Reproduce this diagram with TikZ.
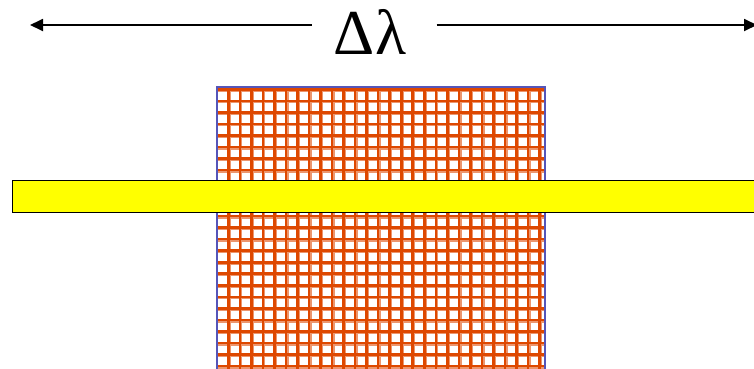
\documentclass[tikz,border=0pt]{standalone}
\usepackage{fontspec}
\setmainfont{Liberation Serif}
\usetikzlibrary{arrows.meta}
\definecolor{gridorange}{RGB}{222,72,0}
\definecolor{gridlight}{RGB}{236,150,110}
\definecolor{gridblue}{RGB}{85,85,185}
\definecolor{baryellow}{RGB}{255,255,0}
\tikzset{
  gridline/.style={draw=gridorange,line width=2.6pt},
  gridshade/.style={draw=gridlight,line width=1.4pt},
  frameline/.style={draw=gridblue,line width=1.6pt},
  barbox/.style={draw=black,fill=baryellow,line width=1.5pt},
  dimarrow/.style={draw=black,line width=1.8pt,-{Triangle[length=13pt,width=12pt]}},
  dimlabel/.style={font=\fontsize{64}{70}\selectfont,inner sep=0pt,anchor=base}
}
\begin{document}
\begin{tikzpicture}[x=1pt,y=-1pt]
\useasboundingbox (0,0) rectangle (754,368);
\clip (0,0) rectangle (754,368);
% grid block
\fill[white] (216.7,87) rectangle (545,372);
\begin{scope}
\clip (216.7,87) rectangle (545,372);
\foreach \k in {0,...,27} {
  \draw[gridshade] ({228.3+11.53*\k+1.9},87) -- ({228.3+11.53*\k+1.9},372);
}
\foreach \k in {0,...,24} {
  \draw[gridshade] (216.7,{89.3+11.53*\k+1.9}) -- (545,{89.3+11.53*\k+1.9});
}
\foreach \k in {0,...,27} {
  \draw[gridline] ({228.3+11.53*\k},87) -- ({228.3+11.53*\k},372);
}
\foreach \k in {0,...,24} {
  \draw[gridline] (216.7,{89.3+11.53*\k}) -- (545,{89.3+11.53*\k});
}
\end{scope}
\draw[frameline] (216.7,372) -- (216.7,87) -- (545,87) -- (545,372);
% yellow bar
\draw[barbox] (12.5,180.5) rectangle (770,212.5);
% delta lambda dimension
\node[dimlabel] (lab) at (370,54) {Δλ};
\coordinate (lend) at (30,25);
\coordinate (rend) at (757,25);
\coordinate (lstart) at (311.7,25);
\coordinate (rstart) at (436.7,25);
\draw[dimarrow] (lstart) -- (lend);
\draw[dimarrow] (rstart) -- (rend);
\end{tikzpicture}
\end{document}
